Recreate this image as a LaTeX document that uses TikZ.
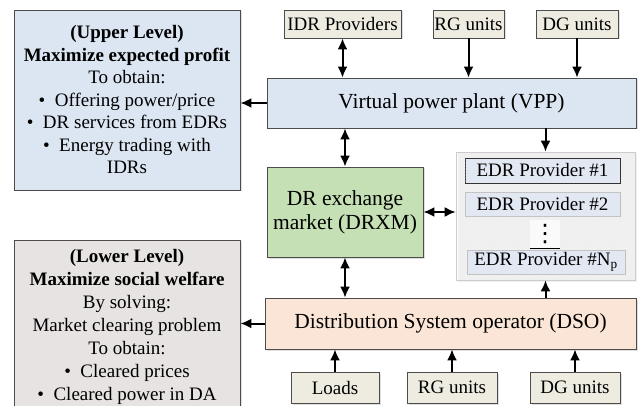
\documentclass[tikz,border=0pt]{standalone}
\usepackage{fontspec}
\setmainfont{Liberation Serif}
\newfontfamily\symfont{DejaVu Sans}
\usetikzlibrary{arrows.meta,shadows,patterns}
\definecolor{upblue}{RGB}{220,230,242}
\definecolor{lowgray}{RGB}{232,227,227}
\definecolor{inbeige}{RGB}{238,236,225}
\definecolor{drgreen}{RGB}{197,224,180}
\definecolor{dsopeach}{RGB}{251,229,214}
\definecolor{edrblue}{RGB}{226,232,243}
\begin{document}
\begin{tikzpicture}[x=1pt,y=-1pt,
  box/.style={draw=black!70, line width=0.8pt, inner sep=0pt, align=center,
    drop shadow={opacity=0.25,shadow xshift=1.5pt,shadow yshift=-1.5pt}},
  small/.style={font=\fontsize{19}{22.5}\selectfont},
  big/.style={font=\fontsize{21.5}{24}\selectfont},
  inbox/.style={box, small, fill=inbeige, minimum height=28pt},
  grp/.style={draw=black!20, line width=0.6pt, pattern=dots, pattern color=black!7,
    drop shadow={opacity=0.12,shadow xshift=1.5pt,shadow yshift=-1.5pt}},
  edr/.style={draw=black!25, line width=0.8pt, small, inner sep=0pt, fill=edrblue,
    postaction={pattern=dots, pattern color=black!7}, minimum width=155pt, minimum height=24pt},
  arr/.style={-{Latex[length=11pt,width=10pt]}, line width=2pt},
  darr/.style={{Latex[length=11pt,width=10pt]}-{Latex[length=11pt,width=10pt]}, line width=2pt}]
\useasboundingbox (0,0) rectangle (642,406);
% left side
\node[box, small, fill=upblue, minimum width=226pt, minimum height=180pt] (upper) at (127,100)
  {\textbf{(Upper Level)}\\ \textbf{Maximize expected profit}\\ To obtain:\\
   \textbullet\ \ Offering power/price\\ \textbullet\ \ DR services from EDRs\\
   \textbullet\ \ Energy trading with\\ IDRs};
\node[box, fill=lowgray, minimum width=226pt, inner ysep=8.5pt, anchor=north,
  font=\fontsize{19}{23}\selectfont] (lower) at (127,240)
  {\textbf{(Lower Level)}\\ \textbf{Maximize social welfare}\\ By solving:\\
   Market clearing problem\\ To obtain:\\ \textbullet\ \ Cleared prices\\
   \textbullet\ \ Cleared power in DA};
% inputs of the VPP
\node[inbox, minimum width=117pt] (idr) at (342.5,24) {IDR Providers};
\node[inbox, minimum width=71pt] (rgt) at (468.5,24) {RG units};
\node[inbox, minimum width=82pt] (dgt) at (577,24) {DG units};
% main blocks
\node[box, big, fill=upblue, minimum width=369pt, minimum height=50pt] (vpp) at (451.5,103) {Virtual power plant (VPP)};
\node[box, big, fill=drgreen, minimum width=156pt, minimum height=90pt] (drxm) at (345,212) {DR exchange\\ market (DRXM)};
\node[box, big, fill=dsopeach, minimum width=371pt, minimum height=51pt] (dso) at (450.5,323.5) {Distribution System operator (DSO)};
% EDR providers
\node[grp, minimum width=179pt, minimum height=128pt] (edrs) at (545.5,216) {};
\node[edr, draw=black!80, minimum height=25pt] (edr1) at (542.5,170.5) {EDR Provider \#1};
\node[edr] (edr2) at (542.5,204) {EDR Provider \#2};
\node[fill=white, fill opacity=0.7, text opacity=1, inner sep=0pt, minimum width=30pt, minimum height=28pt,
  font=\symfont\fontsize{24}{24}\selectfont] (vdots) at (545,234) {⋮};
\draw[line width=1pt] (vdots.south west) -- (vdots.south east);
\node[edr, minimum width=158pt] (edrn) at (546,262) {EDR Provider \#N\textsubscript{p}};
% inputs of the DSO
\foreach \nm/\txt/\x/\w in {load/Loads/335/88, rgb/RG units/452/90, dgb/DG units/575/90}{
  \node[inbox, minimum width=\w pt, minimum height=31pt] (\nm) at (\x,387.5) {\txt};
  \draw[arr] (\nm.north) -- (\nm.north |- dso.south);
}
% connections
\draw[darr] (idr.south) -- (idr.south |- vpp.north);
\draw[arr] (rgt.south) -- (rgt.south |- vpp.north);
\draw[arr] (dgt.south) -- (dgt.south |- vpp.north);
\draw[arr] (vpp.west) -- (vpp.west -| upper.east);
\draw[darr] (vpp.south -| drxm.north) -- (drxm.north);
\draw[arr] (vpp.south -| edrs.north) -- (edrs.north);
\draw[darr] (drxm.east) -- (drxm.east -| edrs.west);
\draw[darr] (drxm.south) -- (drxm.south |- dso.north);
\draw[arr] (dso.north -| edrs.south) -- (edrs.south);
\draw[arr] (dso.west) -- (dso.west -| lower.east);
\end{tikzpicture}
\end{document}
